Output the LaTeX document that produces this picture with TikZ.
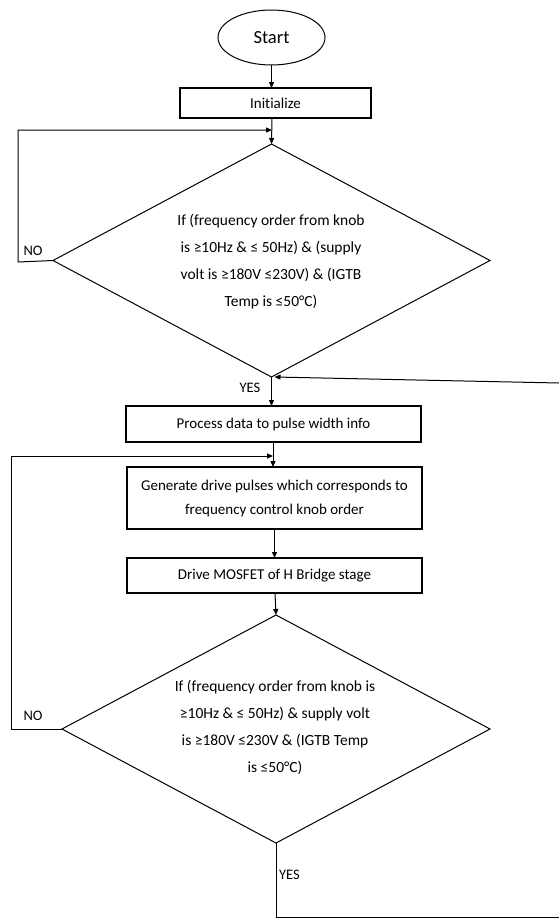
\documentclass[tikz,border=0pt]{standalone}
\usepackage{fontspec}
\setmainfont{Carlito}[Ligatures=CommonOff]
\usetikzlibrary{shapes.geometric,arrows.meta}
\begin{document}
\begin{tikzpicture}[x=1pt,y=-1pt,
  every node/.style={font=\fontsize{15}{18}\selectfont},
  box/.style={draw,line width=1.1pt,rectangle,inner sep=0pt,outer sep=0pt,align=center},
  dec/.style={draw,line width=1pt,diamond,inner sep=0pt,outer sep=0pt},
  lbl/.style={font=\fontsize{14.5}{16}\selectfont,inner sep=0pt},
  ln/.style={line width=1pt},
  arr/.style={line width=1pt,-{Triangle[length=6pt,width=5pt]}}]
\useasboundingbox (0,0) rectangle (559,919);
\fill[white] (0,0) rectangle (559,919);
% nodes
\node[draw,line width=1pt,ellipse,minimum width=107pt,minimum height=55pt,inner sep=0pt,outer sep=0pt,font=\fontsize{18.5}{20}\selectfont] (start) at (271.5,37.5) {Start};
\node[box,minimum width=191pt,minimum height=30pt] (init) at (275.5,103) {Initialize};
\node[dec,minimum width=437pt,minimum height=233pt] (d1) at (271.5,260.5) {};
\node[align=center,inner sep=0pt,font=\fontsize{15.5}{27}\selectfont] (t1) at (271,261.5) {If (frequency order from knob\\is ≥10Hz \& ≤ 50Hz) \& (supply\\volt is ≥180V ≤230V) \& (IGTB\\Temp is ≤50°C)};
\node[box,minimum width=295pt,minimum height=36pt] (proc) at (273.5,424) {Process data to pulse width info};
\node[box,minimum width=295pt,minimum height=62pt,font=\fontsize{15}{24}\selectfont] (gen) at (274.5,498) {Generate drive pulses which corresponds to\\frequency control knob order};
\node[box,minimum width=295pt,minimum height=35pt] (drive) at (274.5,575.5) {Drive MOSFET of H Bridge stage};
\node[dec,minimum width=428pt,minimum height=228pt] (d2) at (276,729) {};
\node[align=center,inner sep=0pt,font=\fontsize{15.5}{27}\selectfont] (t2) at (275,727.5) {If (frequency order from knob is\\≥10Hz \& ≤ 50Hz) \& supply volt\\is ≥180V ≤230V \& (IGTB Temp\\is ≤50°C)};
% labels
\node[lbl] (no1) at (33,251) {NO};
\node[lbl] (yes1) at (250,388) {YES};
\node[lbl] (no2) at (33,716) {NO};
\node[lbl] (yes2) at (289.5,875) {YES};
% coordinates
\coordinate (j1) at (272,130);
\coordinate (c1) at (18,262);
\coordinate (j2) at (273,456);
\coordinate (c2) at (11,729);
\coordinate (r1) at (559,383);
\coordinate (b2) at (559,917);
% connectors
\draw[arr] (start.south) -- (start.south |- init.north);
\draw[arr] (272,118) -- (d1.north);
\draw[arr] (d1.west) -- (c1) |- (j1);
\draw[arr] (d1.south) -- (d1.south |- proc.north);
\draw[arr] (r1) -- ([xshift=3pt]d1.south);
\draw[arr] (273,442) -- (273,467);
\draw[arr] (d2.west) -- (c2) |- (j2);
\draw[arr] (274.5,529) -- (274.5,558);
\draw[arr] (275,593) -- (d2.north);
\draw[ln] (d2.south) |- (b2);
\end{tikzpicture}
\end{document}
